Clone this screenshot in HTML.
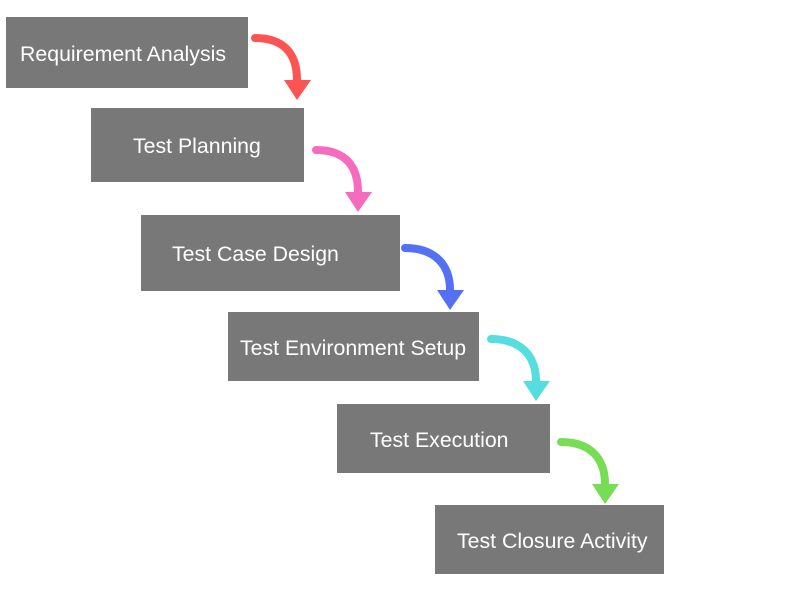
<!DOCTYPE html>
<html><head><style>
body{margin:0;background:#fff;width:800px;height:600px;overflow:hidden;position:relative;font-family:"Liberation Sans",sans-serif}
.b{position:absolute;background:#787878;color:#fff;font-size:21.3px;display:flex;align-items:center;padding-top:3px}
</style></head><body>
<div class="b" style="left:6px;top:17px;width:242px;height:71px;padding-left:14px;box-sizing:border-box">Requirement Analysis</div>
<div class="b" style="left:91px;top:108px;width:213px;height:74px;padding-left:42px;box-sizing:border-box">Test Planning</div>
<div class="b" style="left:141px;top:215px;width:259px;height:76px;padding-left:31px;box-sizing:border-box">Test Case Design</div>
<div class="b" style="left:228px;top:312px;width:251px;height:69px;padding-left:12px;box-sizing:border-box">Test Environment Setup</div>
<div class="b" style="left:337px;top:404px;width:213px;height:69px;padding-left:33px;box-sizing:border-box">Test Execution</div>
<div class="b" style="left:435px;top:505px;width:229px;height:69px;padding-left:22px;box-sizing:border-box">Test Closure Activity</div>
<svg width="800" height="600" style="position:absolute;left:0;top:0">
<g fill="none" stroke-width="8" stroke-linecap="round">
<path d="M255 38 C285 38 297 55 297 80" stroke="#fc5353"/>
<path d="M316 150 C346 150 358 167 358 192" stroke="#f76bbf"/>
<path d="M405 248 C435 248 450 265 450 290" stroke="#5470f5"/>
<path d="M491 339 C521 339 536 356 536 381" stroke="#55dde0"/>
<path d="M561 442 C591 442 605 459 605 484" stroke="#77dd55"/>
</g>
<polygon points="284,80 311,80 297,100" fill="#fc5353"/>
<polygon points="345,192 372,192 358,212" fill="#f76bbf"/>
<polygon points="437,290 464,290 450,310" fill="#5470f5"/>
<polygon points="523,381 550,381 536,401" fill="#55dde0"/>
<polygon points="592,484 619,484 605,504" fill="#77dd55"/>
</svg>
</body></html>
